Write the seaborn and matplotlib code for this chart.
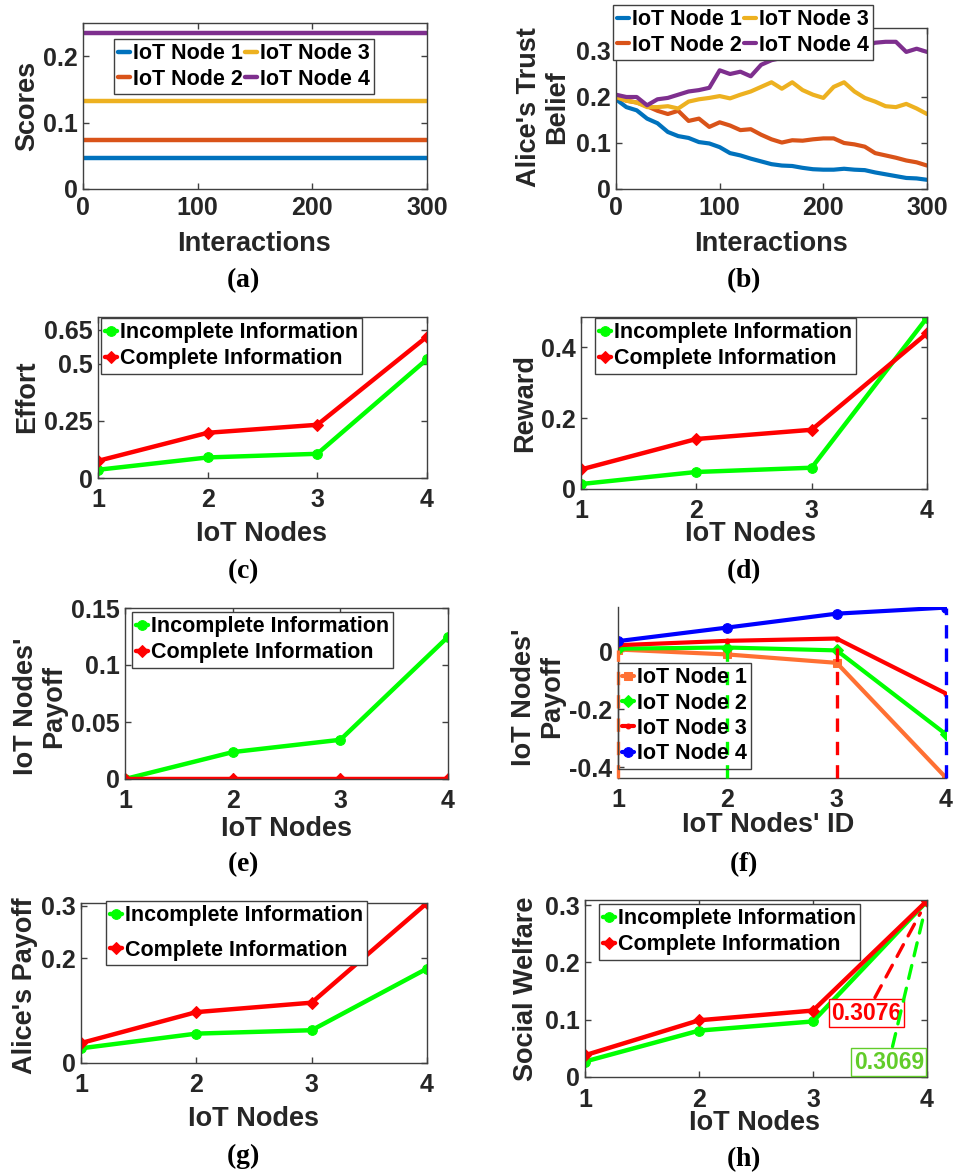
import matplotlib
matplotlib.use('Agg')
import matplotlib.pyplot as plt
import seaborn as sns
from matplotlib.ticker import FuncFormatter

sns.set_theme(style="ticks")
plt.rcParams['font.family'] = ['Liberation Sans', 'DejaVu Sans']
plt.rcParams['font.weight'] = 'bold'
plt.rcParams['axes.unicode_minus'] = False
plt.rcParams['mathtext.fontset'] = 'custom'
plt.rcParams['mathtext.rm'] = 'Liberation Serif'
plt.rcParams['mathtext.bf'] = 'Liberation Serif:bold'

W, H = 957, 1173
EDGE = "#404040"
TXT = "#262626"
CORES_MATLAB = ["#0072BD", "#D95319", "#EDB120", "#7E2F8E"]
VERDE = "#00FF00"
VERMELHO = "#FF0000"

# ---- dados ----
INTERACOES = list(range(0, 301, 10))
NOS = [1, 2, 3, 4]
ROTULOS_NOS = ["IoT Node 1", "IoT Node 2", "IoT Node 3", "IoT Node 4"]
ROTULOS_INFO = ["Incomplete Information", "Complete Information"]

SCORES = [0.047, 0.0735, 0.133, 0.235]

TRUST_NODE1 = [0.195, 0.178, 0.171, 0.153, 0.143, 0.124, 0.115, 0.111, 0.102, 0.099, 0.091,
               0.078, 0.073, 0.066, 0.060, 0.054, 0.051, 0.050, 0.046, 0.043, 0.042,
               0.042, 0.044, 0.042, 0.041, 0.036, 0.032, 0.028, 0.024, 0.023, 0.020]
TRUST_NODE2 = [0.200, 0.192, 0.188, 0.180, 0.170, 0.163, 0.170, 0.148, 0.153, 0.135, 0.145,
               0.138, 0.128, 0.130, 0.118, 0.108, 0.101, 0.106, 0.105, 0.108, 0.110,
               0.110, 0.100, 0.097, 0.092, 0.078, 0.073, 0.068, 0.062, 0.058, 0.051]
TRUST_NODE3 = [0.200, 0.192, 0.188, 0.178, 0.178, 0.180, 0.175, 0.190, 0.195, 0.198, 0.202,
               0.197, 0.205, 0.212, 0.222, 0.232, 0.218, 0.232, 0.215, 0.205, 0.198,
               0.222, 0.232, 0.212, 0.198, 0.190, 0.180, 0.178, 0.185, 0.175, 0.163]
TRUST_NODE4 = [0.205, 0.200, 0.200, 0.182, 0.195, 0.198, 0.205, 0.212, 0.215, 0.220, 0.258,
               0.250, 0.255, 0.245, 0.270, 0.280, 0.285, 0.290, 0.295, 0.293, 0.298,
               0.298, 0.300, 0.305, 0.310, 0.318, 0.320, 0.320, 0.298, 0.305, 0.298]

EFFORT_INCOMPLETE = [0.036, 0.090, 0.106, 0.520]
EFFORT_COMPLETE = [0.075, 0.198, 0.233, 0.619]

REWARD_INCOMPLETE = [0.014, 0.048, 0.060, 0.483]
REWARD_COMPLETE = [0.055, 0.141, 0.167, 0.439]

PAYOFF_INCOMPLETE = [0.0, 0.0236, 0.0344, 0.1247]
PAYOFF_COMPLETE = [0.0, 0.0, 0.0, 0.0]

PAYOFF_NODE1 = [0.006, -0.011, -0.040, -0.437]
PAYOFF_NODE2 = [0.009, 0.013, 0.003, -0.287]
PAYOFF_NODE3 = [0.021, 0.036, 0.044, -0.146]
PAYOFF_NODE4 = [0.035, 0.082, 0.130, 0.151]

ALICE_INCOMPLETE = [0.028, 0.056, 0.0625, 0.180]
ALICE_COMPLETE = [0.038, 0.097, 0.115, 0.305]

SW_INCOMPLETE = [0.027, 0.081, 0.097, 0.3069]
SW_COMPLETE = [0.038, 0.099, 0.116, 0.3076]

fig = plt.figure(figsize=(W / 100, H / 100), dpi=100, facecolor='white')


def _rect(x0, y0, x1, y1):
    return [x0 / W, 1 - y1 / H, (x1 - x0) / W, (y1 - y0) / H]


def _xy(x, y):
    return x / W, 1 - y / H


def _eixo(ret, xlim, ylim, xticks, yticks, caixa=True, xpad=6):
    ax = fig.add_axes(_rect(*ret))
    ax.set_xlim(*xlim)
    ax.set_ylim(*ylim)
    ax.set_xticks(xticks)
    ax.set_yticks(yticks)
    fmt = FuncFormatter(lambda v, p: f"{v:g}")
    ax.xaxis.set_major_formatter(fmt)
    ax.yaxis.set_major_formatter(fmt)
    for lado, sp in ax.spines.items():
        sp.set_color(EDGE)
        sp.set_linewidth(1.0)
    if not caixa:
        ax.spines['top'].set_visible(False)
        ax.spines['right'].set_visible(False)
    ax.tick_params(direction='in', length=4, width=1, color=EDGE, labelsize=18,
                   labelcolor=TXT, top=caixa, right=caixa)
    ax.tick_params(axis='x', pad=xpad)
    ax.tick_params(axis='y', pad=4)
    ax.grid(False)
    return ax


def _legenda(ax, x, y, ncol=1, espaco=0.2, fundo=True):
    handles, labels = ax.get_legend_handles_labels()
    leg = ax.legend(handles, labels, loc='upper left', bbox_to_anchor=_xy(x, y),
                    bbox_transform=fig.transFigure, borderaxespad=0, ncol=ncol,
                    fontsize=15.5, frameon=True, fancybox=False,
                    framealpha=1 if fundo else 0, edgecolor=EDGE, borderpad=0.2,
                    labelspacing=espaco, handlelength=0.55, handletextpad=0.12,
                    columnspacing=0.12, labelcolor='black')
    leg.get_frame().set_linewidth(1)
    if not fundo:
        # linhas tracejadas aparecem por cima da legenda no original
        leg.get_frame().set_facecolor('none')
        leg.get_frame().set_edgecolor(EDGE)
        leg.get_frame().set_alpha(None)
    leg.set_zorder(10)
    return leg


def _textos(xlabel, xl_pos, ylabel, yl_pos, legenda, leg_pos):
    fig.text(*_xy(*xl_pos), xlabel, ha='center', va='baseline', fontsize=19.5, color=TXT)
    fig.text(*_xy(*yl_pos), ylabel, ha='center', va='center', fontsize=19.5, color=TXT,
             rotation=90, linespacing=1.1)
    fig.text(*_xy(*leg_pos), r"$(\mathbf{" + legenda + r"})$", ha='center',
             va='baseline', fontsize=20, color='black')


def _linhas_info(ax, ys_inc, ys_com):
    sns.lineplot(x=NOS, y=ys_inc, ax=ax, color=VERDE, marker='o', markersize=7,
                 markeredgecolor=VERDE, linewidth=3.2, label=ROTULOS_INFO[0])
    sns.lineplot(x=NOS, y=ys_com, ax=ax, color=VERMELHO, marker='D', markersize=6,
                 markeredgecolor=VERMELHO, linewidth=3.2, label=ROTULOS_INFO[1])


# (a) scores
ax = _eixo((83, 23, 427, 189), (0, 300), (0, 0.25), [0, 100, 200, 300], [0, 0.1, 0.2], xpad=5)
for i, s in enumerate(SCORES):
    sns.lineplot(x=INTERACOES, y=[s] * len(INTERACOES), ax=ax, color=CORES_MATLAB[i],
                 linewidth=3.2, label=ROTULOS_NOS[i])
_legenda(ax, 114, 39, ncol=2, espaco=0.2)
_textos("Interactions", (254, 250.7), "Scores", (27, 106), "a", (243, 287))

# (b) trust belief
ax = _eixo((616, 28, 927, 189), (0, 300), (0, 0.35), [0, 100, 200, 300], [0, 0.1, 0.2, 0.3], xpad=5)
for i, serie in enumerate([TRUST_NODE1, TRUST_NODE2, TRUST_NODE3, TRUST_NODE4]):
    sns.lineplot(x=INTERACOES, y=serie, ax=ax, color=CORES_MATLAB[i], linewidth=3,
                 label=ROTULOS_NOS[i])
_legenda(ax, 613, 5, ncol=2, espaco=0.2)
_textos("Interactions", (770.5, 250.7), "Alice's Trust\nBelief", (543, 107), "b", (743, 287))

# (c) effort
ax = _eixo((98, 317, 427, 478), (1, 4), (0, 0.705), NOS, [0, 0.25, 0.5, 0.65], xpad=7)
_linhas_info(ax, EFFORT_INCOMPLETE, EFFORT_COMPLETE)
_legenda(ax, 101, 318, espaco=0.24)
_textos("IoT Nodes", (261.7, 540.7), "Effort", (27, 397), "c", (243, 578))

# (d) reward
ax = _eixo((581, 317, 927, 489), (1, 4), (0, 0.485), NOS, [0, 0.2, 0.4], xpad=7)
_linhas_info(ax, REWARD_INCOMPLETE, REWARD_COMPLETE)
_legenda(ax, 595, 318, espaco=0.24)
_textos("IoT Nodes", (750.8, 540.7), "Reward", (524.7, 403), "d", (743, 578))

# (e) IoT nodes payoff
ax = _eixo((125, 608, 448, 779), (1, 4), (0, 0.15), NOS, [0, 0.05, 0.1, 0.15], xpad=7)
_linhas_info(ax, PAYOFF_INCOMPLETE, PAYOFF_COMPLETE)
_legenda(ax, 132, 612, espaco=0.24)
_textos("IoT Nodes", (286.2, 835.7), "IoT Nodes'\nPayoff", (40, 706), "e", (243, 871))

# (f) payoff per node
ax = _eixo((618, 607, 946, 778), (1, 4), (-0.438, 0.153), NOS, [-0.4, -0.2, 0], caixa=False, xpad=7)
cores_f = ["#FF7033", VERDE, VERMELHO, "#0000FF"]
marcas_f = ['s', 'D', '.', 'o']
tam_f = [6, 6, 7, 7]
series_f = [PAYOFF_NODE1, PAYOFF_NODE2, PAYOFF_NODE3, PAYOFF_NODE4]
for i, serie in enumerate(series_f):
    sns.lineplot(x=NOS, y=serie, ax=ax, color=cores_f[i], marker=marcas_f[i],
                 markersize=tam_f[i], markeredgecolor=cores_f[i], linewidth=3,
                 label=ROTULOS_NOS[i])
    ax.vlines(NOS[i], ax.get_ylim()[0], serie[i], colors=cores_f[i], linestyles=(0, (4, 3)),
              linewidth=2.4, clip_on=False, zorder=3)
_legenda(ax, 618, 663, espaco=0.2, fundo=False)
_textos("IoT Nodes' ID", (767.7, 831.7), "IoT Nodes'\nPayoff", (538, 697), "f", (743, 871))

# (g) Alice's payoff
ax = _eixo((81, 903, 427, 1063), (1, 4), (0, 0.305), NOS, [0, 0.2, 0.3], xpad=7)
_linhas_info(ax, ALICE_INCOMPLETE, ALICE_COMPLETE)
_legenda(ax, 106, 901, espaco=0.62)
_textos("IoT Nodes", (253.7, 1125.7), "Alice's Payoff", (25.5, 985.5), "g", (243, 1163))

# (h) social welfare
ax = _eixo((585, 900, 927, 1077), (1, 4), (0, 0.309), NOS, [0, 0.1, 0.2, 0.3], xpad=8)
_linhas_info(ax, SW_INCOMPLETE, SW_COMPLETE)
_legenda(ax, 599, 904, espaco=0.24)
ax.annotate(f"{SW_COMPLETE[-1]:.4f}", xy=(NOS[-1], SW_COMPLETE[-1]), xytext=(3.47, 0.1117),
            ha='center', va='center', color=VERMELHO, fontsize=16.5,
            bbox=dict(boxstyle='square,pad=0.1', fc='white', ec=VERMELHO, lw=1),
            arrowprops=dict(arrowstyle='-', color=VERMELHO, lw=2.4, linestyle=(0, (4, 3)),
                            shrinkA=1, shrinkB=10))
ax.annotate(f"{SW_INCOMPLETE[-1]:.4f}", xy=(NOS[-1], SW_INCOMPLETE[-1]), xytext=(3.665, 0.0258),
            ha='center', va='center', color="#62CC2A", fontsize=16.5,
            bbox=dict(boxstyle='square,pad=0.1', fc='white', ec="#62CC2A", lw=1),
            arrowprops=dict(arrowstyle='-', color=VERDE, lw=2.4, linestyle=(0, (4, 3)),
                            shrinkA=1, shrinkB=10))
_textos("IoT Nodes", (754.7, 1130), "Social Welfare", (526, 989), "h", (743, 1166))

fig.savefig("out.png", dpi=100, facecolor='white')
plt.close(fig)
